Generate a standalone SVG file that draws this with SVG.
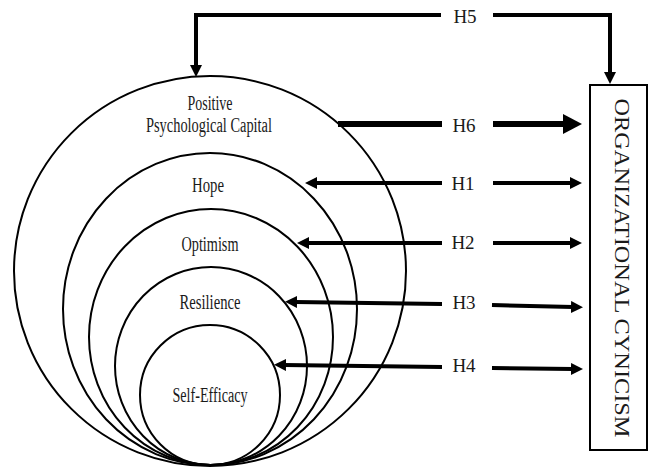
<svg xmlns="http://www.w3.org/2000/svg" width="649" height="469" viewBox="0 0 649 469">
<style>
.c{fill:none;stroke:#000;stroke-width:2}
.t{font-family:"Liberation Serif","Times New Roman",serif;font-size:19px;fill:#1a1a1a;text-anchor:middle}
.lb{font-size:20px}
.ln{fill:none;stroke:#000;stroke-width:4;stroke-linejoin:miter}
.thick{fill:none;stroke:#000;stroke-width:6}
</style>
<defs>
<marker id="a" viewBox="0 0 12 12" markerWidth="12" markerHeight="12" markerUnits="userSpaceOnUse" refX="2" refY="6" orient="auto"><path d="M0,0 L12,6 L0,12 z" fill="#000"/></marker>
<marker id="b" viewBox="0 0 19 20" markerWidth="19" markerHeight="20" markerUnits="userSpaceOnUse" refX="2" refY="10" orient="auto"><path d="M0,0 L19,10 L0,20 z" fill="#000"/></marker>
</defs>
<rect width="649" height="469" fill="#fff"/>
<g id="psycap">
<ellipse class="c" cx="210" cy="271" rx="196" ry="195"/>
<text class="t lb" x="210" y="110" textLength="45" lengthAdjust="spacingAndGlyphs">Positive</text>
<text class="t lb" x="209" y="132" textLength="126" lengthAdjust="spacingAndGlyphs">Psychological Capital</text>
</g>
<g id="hope">
<ellipse class="c" cx="210" cy="309" rx="147" ry="156"/>
<text class="t lb" x="208" y="192" textLength="32" lengthAdjust="spacingAndGlyphs">Hope</text>
</g>
<g id="optimism">
<ellipse class="c" cx="211" cy="337" rx="122" ry="128"/>
<text class="t lb" x="210" y="251" textLength="57" lengthAdjust="spacingAndGlyphs">Optimism</text>
</g>
<g id="resilience">
<ellipse class="c" cx="211" cy="366" rx="96" ry="99"/>
<text class="t lb" x="210" y="309" textLength="61" lengthAdjust="spacingAndGlyphs">Resilience</text>
</g>
<g id="selfefficacy">
<ellipse class="c" cx="210" cy="395" rx="70" ry="70"/>
<text class="t lb" x="210" y="402" textLength="75" lengthAdjust="spacingAndGlyphs">Self-Efficacy</text>
</g>
<g id="cynicism">
<rect x="590" y="85" width="57" height="365" fill="none" stroke="#000" stroke-width="2"/>
<text class="t" transform="translate(615,268) rotate(90)" x="0" y="0" style="font-size:21px" textLength="339" lengthAdjust="spacingAndGlyphs">ORGANIZATIONAL  CYNICISM</text>
</g>
<g id="connectors">
<path class="ln" d="M441,15 H196 V67" marker-end="url(#a)"/>
<path class="ln" d="M493,15 H610 V74" marker-end="url(#a)"/>
<text class="t" x="465" y="23">H5</text>
<path class="thick" d="M338,124 H442"/>
<path class="thick" d="M493,124 H565" marker-end="url(#b)"/>
<text class="t" x="464" y="132">H6</text>
<path class="ln" d="M442,183 H315" marker-end="url(#a)"/>
<path class="ln" d="M493,183 H572" marker-end="url(#a)"/>
<text class="t" x="463" y="190">H1</text>
<path class="ln" d="M442,243 H307" marker-end="url(#a)"/>
<path class="ln" d="M493,243 H572" marker-end="url(#a)"/>
<text class="t" x="463" y="249">H2</text>
<path class="ln" d="M442,304 L295,302" marker-end="url(#a)"/>
<path class="ln" d="M492,305 L573,307" marker-end="url(#a)"/>
<text class="t" x="464" y="309">H3</text>
<path class="ln" d="M442,367 L284,365" marker-end="url(#a)"/>
<path class="ln" d="M492,368 L573,369" marker-end="url(#a)"/>
<text class="t" x="464" y="372">H4</text>
</g>
</svg>
